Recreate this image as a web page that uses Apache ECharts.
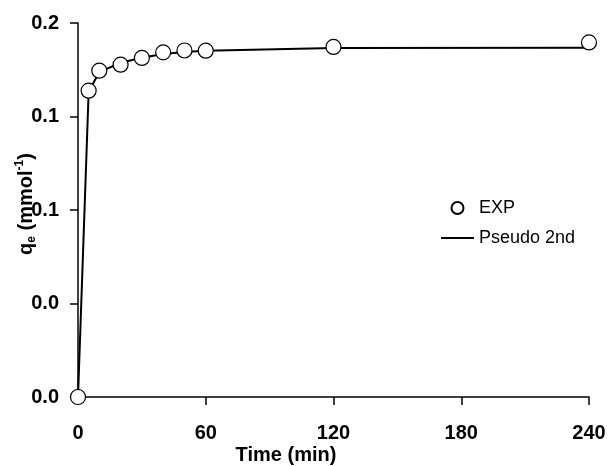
<!DOCTYPE html>
<html>
<head>
<meta charset="utf-8">
<script src="https://cdn.jsdelivr.net/npm/echarts@6/dist/echarts.min.js"></script>
<style>
html,body{margin:0;padding:0;background:#fff;}
#c{width:609px;height:466px;}
</style>
</head>
<body>
<div id="c"></div>
<script>
// Data
const timeExp = [0, 5, 10, 20, 30, 40, 50, 60, 120, 240];
const qeExp = [0.0, 0.1638, 0.1745, 0.1777, 0.1813, 0.1843, 0.1853, 0.1852, 0.1872, 0.1896];
const timeModel = [0, 5, 10, 20, 30, 40, 50, 60, 120, 240];
const qeModel = [0.0, 0.1632, 0.1738, 0.1787, 0.1814, 0.1834, 0.1845, 0.1852, 0.1866, 0.1867];
const xTicks = [0, 60, 120, 180, 240];
const yTickLabels = ['0.0', '0.0', '0.1', '0.1', '0.2'];
const seriesNames = ['EXP', 'Pseudo 2nd'];

const font = '"Liberation Sans", Arial, sans-serif';
const chart = echarts.init(document.getElementById('c'), null, {renderer: 'canvas'});

const option = {
  animation: false,
  backgroundColor: '#fff',
  grid: {left: 78, right: 20, top: 23, bottom: 69, containLabel: false},
  xAxis: {
    type: 'value', min: xTicks[0], max: xTicks[xTicks.length - 1], interval: 60,
    axisLine: {show: true, lineStyle: {color: '#000', width: 1.5}},
    axisTick: {show: true, inside: false, length: 8, lineStyle: {color: '#000', width: 1.5}},
    axisLabel: {color: '#000', fontFamily: font, fontWeight: 'bold', fontSize: 20, margin: 26},
    splitLine: {show: false}
  },
  yAxis: {
    type: 'value', min: 0, max: 0.2, interval: 0.05,
    axisLine: {show: true, lineStyle: {color: '#000', width: 1.5}},
    axisTick: {show: true, inside: false, length: 8, lineStyle: {color: '#000', width: 1.5}},
    axisLabel: {
      color: '#000', fontFamily: font, fontWeight: 'bold', fontSize: 20, margin: 19,
      formatter: function (v) { return yTickLabels[Math.round(v / 0.05)]; }
    },
    splitLine: {show: false}
  },
  legend: {
    orient: 'vertical', left: 441, top: 199, padding: 0, itemWidth: 33, itemHeight: 12, itemGap: 12,
    textStyle: {color: '#000', fontFamily: font, fontSize: 18},
    data: [
      {name: seriesNames[0]},
      {name: seriesNames[1], icon: 'path://M0,0 L33,0 L33,2 L0,2 Z'}
    ]
  },
  graphic: [
    {
      type: 'text', x: 286, y: 455,
      style: {text: 'Time (min)', fill: '#000', font: 'bold 20px ' + font, textAlign: 'center', textVerticalAlign: 'middle'}
    },
    {
      type: 'text', x: 26, y: 204, rotation: Math.PI / 2,
      style: {
        text: '{b|q}{sub|e}{b| (mmol}{sup|-1}{b|)}',
        textAlign: 'center', textVerticalAlign: 'middle',
        rich: {
          b: {fontFamily: font, fontWeight: 'bold', fontSize: 20, fill: '#000', lineHeight: 24, verticalAlign: 'middle'},
          sub: {fontFamily: font, fontWeight: 'bold', fontSize: 12, fill: '#000', lineHeight: 14, padding: [10, 0, 0, 0], verticalAlign: 'bottom'},
          sup: {fontFamily: font, fontWeight: 'bold', fontSize: 12, fill: '#000', lineHeight: 12, padding: [0, 0, 12, 0], verticalAlign: 'top'}
        }
      }
    }
  ],
  series: [
    {
      name: seriesNames[1], type: 'line', z: 2,
      data: timeModel.map((t, i) => [t, qeModel[i]]),
      symbol: 'none', showSymbol: false, smooth: false,
      lineStyle: {color: '#000', width: 2},
      itemStyle: {color: '#000'}
    },
    {
      name: seriesNames[0], type: 'scatter', z: 3,
      data: timeExp.map((t, i) => [t, qeExp[i]]),
      symbol: 'circle', symbolSize: 15,
      itemStyle: {color: '#fff', borderColor: '#000', borderWidth: 1.2, opacity: 1}
    }
  ]
};
chart.setOption(option);
</script>
</body>
</html>
